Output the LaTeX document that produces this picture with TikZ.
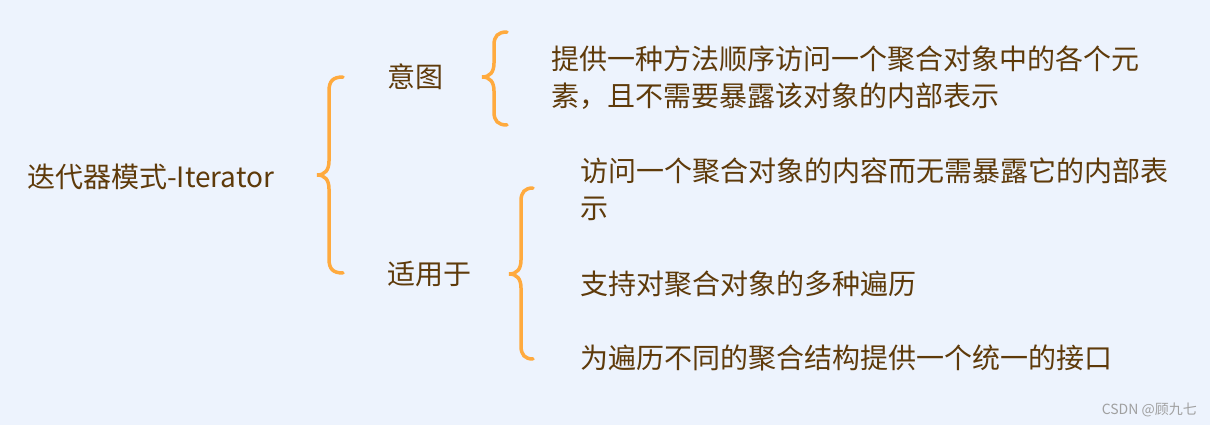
\documentclass[tikz,border=0pt]{standalone}
\usepackage{fontspec}
\setmainfont{Noto Sans CJK SC}
\definecolor{bgblue}{HTML}{EDF3FD}
\definecolor{textbrown}{HTML}{5E3A0A}
\definecolor{braceorange}{HTML}{FFAA3E}
\definecolor{markgray}{HTML}{A0A0A0}
\tikzset{
  topic/.style={anchor=base west,inner sep=0pt,text=textbrown,align=left,
    font=\fontsize{28}{37}\selectfont},
  brace/.style={draw=braceorange,line width=3.5pt,line cap=round}
}
\begin{document}
\begin{tikzpicture}[x=1pt,y=-1pt]
  \fill[bgblue] (0,0) rectangle (1210,425);
  \useasboundingbox (0,0) rectangle (1210,425);

  % topics
  \node[topic] (root) at (27,187) {迭代器模式-Iterator};
  \node[topic] (intent) at (387,88) {意图};
  \node[topic] (usage) at (387,284) {适用于};
  \node[topic] (intentA) at (551,107) {提供一种方法顺序访问一个聚合对象中的各个元\\素，且不需要暴露该对象的内部表示};
  \node[topic] (usageA) at (580,218) {访问一个聚合对象的内容而无需暴露它的内部表\\示};
  \node[topic] (usageB) at (580,294) {支持对聚合对象的多种遍历};
  \node[topic] (usageC) at (580,368) {为遍历不同的聚合结构提供一个统一的接口};

  % brace ends
  \coordinate (rtop) at (343,77);
  \coordinate (rtip) at (317,175);
  \coordinate (rbot) at (343,273);
  \coordinate (itop) at (507,32);
  \coordinate (itip) at (482,77);
  \coordinate (ibot) at (507,125);
  \coordinate (utop) at (533,188);
  \coordinate (utip) at (509,274);
  \coordinate (ubot) at (533,359);

  \draw[brace] (rtop) .. controls (333,77) and (329,81) .. (329,91) -- (329,161)
    .. controls (329,170) and (325,175) .. (rtip)
    .. controls (325,175) and (329,180) .. (329,189) -- (329,259)
    .. controls (329,269) and (333,273) .. (rbot);
  \draw[brace] (itop) .. controls (498,32) and (494,36) .. (494,45) -- (494,63)
    .. controls (494,72) and (490,77) .. (itip)
    .. controls (490,77) and (494,82) .. (494,91) -- (494,112)
    .. controls (494,121) and (498,125) .. (ibot);
  \draw[brace] (utop) .. controls (525,188) and (521,192) .. (521,201) -- (521,260)
    .. controls (521,269) and (517,274) .. (utip)
    .. controls (517,274) and (521,279) .. (521,288) -- (521,346)
    .. controls (521,355) and (525,359) .. (ubot);

  \node[anchor=base east,inner sep=0pt,text=markgray,font=\fontsize{14}{16}\selectfont]
    (mark) at (1197,414) {CSDN @顾九七};
\end{tikzpicture}
\end{document}
